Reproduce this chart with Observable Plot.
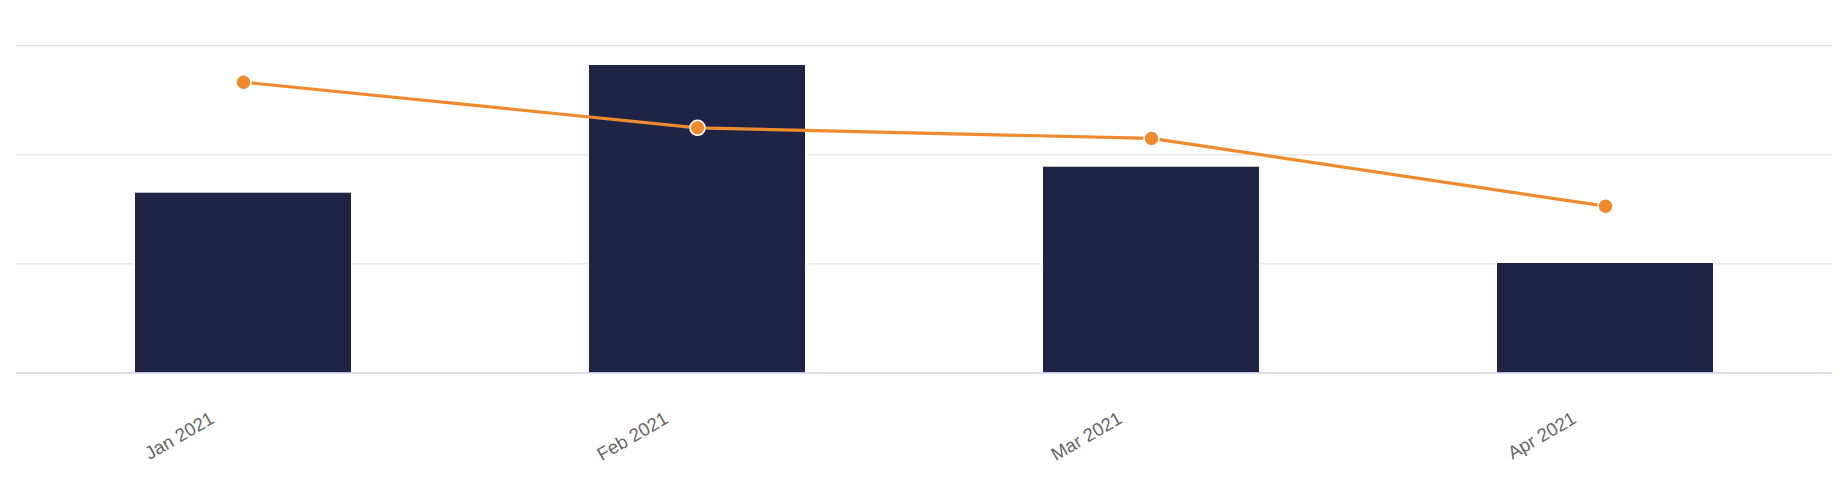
<!DOCTYPE html>
<html>
<head>
<meta charset="utf-8">
<script src="https://cdn.jsdelivr.net/npm/d3@7"></script>
<script src="https://cdn.jsdelivr.net/npm/@observablehq/plot@0.6"></script>
<style>
  html, body { margin: 0; padding: 0; background: #fff; }
  #chart svg { display: block; }
</style>
</head>
<body>
<div id="chart"></div>
<script>
const months = ["Jan 2021", "Feb 2021", "Mar 2021", "Apr 2021"];
const barValues = [1.647, 2.817, 1.885, 1.003];
const lineValues = [2.664, 2.246, 2.149, 1.528];
const gridTicks = [1, 2, 3];

const data = months.map((m, i) => ({month: m, bar: barValues[i], line: lineValues[i]}));

const chart = Plot.plot({
  width: 1842,
  height: 482,
  marginLeft: 16,
  marginRight: 10,
  marginTop: 45,
  marginBottom: 109.5,
  style: {fontFamily: "'Liberation Sans', Arial, sans-serif", background: "#fff"},
  x: {domain: months, paddingInner: 0.524, paddingOuter: 0.262, label: null},
  y: {domain: [0, 3], label: null},
  marks: [
    Plot.ruleY(gridTicks, {stroke: "#e6e6e6", strokeWidth: 1.5}),
    Plot.barY(data, {x: "month", y: "bar", fill: "#fff", insetLeft: -2, insetRight: -2, insetTop: -2}),
    Plot.barY(data, {x: "month", y: "bar", fill: "#1f2444"}),
    Plot.ruleY([0], {stroke: "#ccd6eb", strokeWidth: 1.5}),
    Plot.line(data, {x: "month", y: "line", stroke: "#ef8a2f", strokeWidth: 3.2}),
    Plot.dot(data, {x: "month", y: "line", r: 7.5, fill: "#ef8a2f", stroke: "#fff", strokeWidth: 1.6}),
    Plot.axisX({tickSize: 0, tickPadding: 0, tickRotate: -30, dx: -31, dy: 44, fontSize: 18.5, fill: "#666", label: null}),
    Plot.axisY({ticks: [], tickSize: 0, label: null})
  ]
});
document.getElementById("chart").appendChild(chart);
</script>
</body>
</html>
